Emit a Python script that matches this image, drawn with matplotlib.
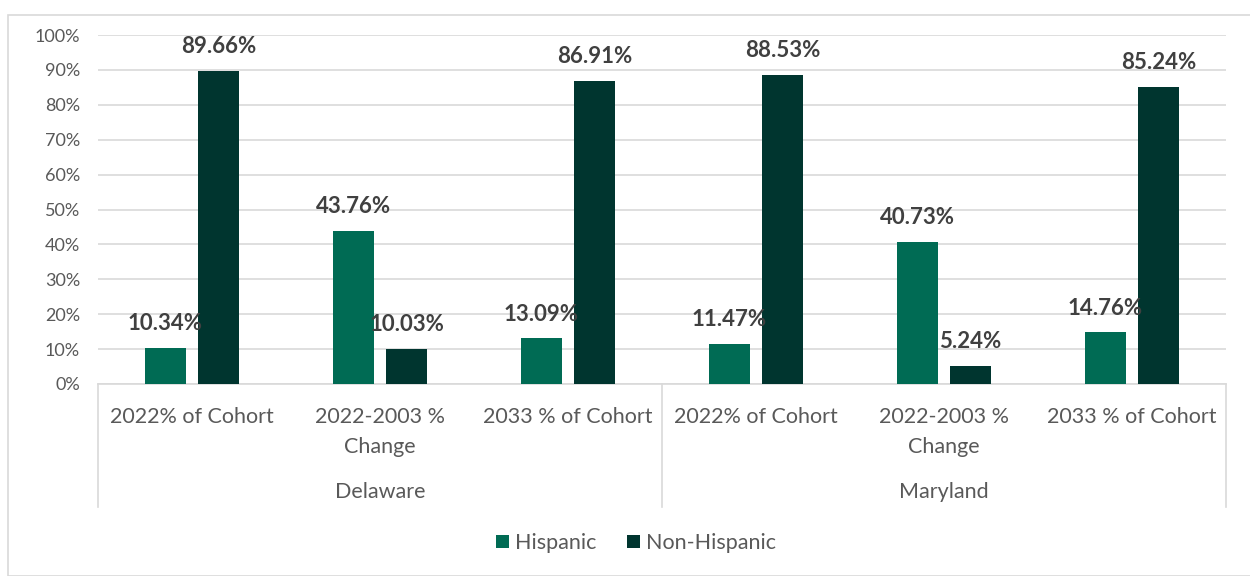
import numpy as np
import matplotlib
matplotlib.use("Agg")
import matplotlib.pyplot as plt
from matplotlib.patches import Rectangle

plt.rcParams['font.family'] = ['Lato', 'DejaVu Sans']

# data
states = ['Delaware', 'Maryland']
measures = ['2022% of Cohort', '2022-2003 %\nChange', '2033 % of Cohort']
hispanic = [10.34, 43.76, 13.09, 11.47, 40.73, 14.76]
non_hispanic = [89.66, 10.03, 86.91, 88.53, 5.24, 85.24]

c_his = '#006B54'
c_non = '#00352F'
txt = '#404040'
grid_c = '#D9D9D9'

fig = plt.figure(figsize=(12.5, 5.76), dpi=100)
fig.patches.append(Rectangle((8/1250, 0), 1.0, 1 - 15/576, transform=fig.transFigure,
                             fill=False, edgecolor=grid_c, lw=1.2, zorder=0))
ax = fig.add_axes([98/1250, 1 - 384/576, 1128/1250, 349/576])

x = np.arange(len(hispanic))
w = 0.22
off = 0.141
b1 = ax.bar(x - off, hispanic, w, color=c_his, label='Hispanic', zorder=3)
b2 = ax.bar(x + off, non_hispanic, w, color=c_non, label='Non-Hispanic', zorder=3)

for bars, vals in [(b1, hispanic), (b2, non_hispanic)]:
    for b, v in zip(bars, vals):
        ax.annotate(f'{v:.2f}%', (b.get_x() + b.get_width()/2, v), xytext=(0, 17.5),
                    textcoords='offset points', ha='center', va='center',
                    fontsize=16, fontweight='bold', color=txt, zorder=4)

ax.set_xlim(-0.5, len(x) - 0.5)
ax.set_ylim(0, 100)
ax.set_yticks(range(0, 101, 10))
ax.set_yticklabels([f'{t}%' for t in range(0, 101, 10)], fontsize=13, color='#595959')
ax.yaxis.grid(True, color=grid_c, lw=1.2, zorder=0)
ax.tick_params(axis='y', length=0, pad=13)
ax.set_xticks([])
for s in ['top', 'right', 'left']:
    ax.spines[s].set_visible(False)
ax.spines['bottom'].set_color(grid_c)
ax.spines['bottom'].set_linewidth(1.2)

# category labels
trans = ax.get_xaxis_transform()
for i in x:
    ax.text(i, -0.065, measures[i % 3], transform=trans, ha='center', va='top',
            fontsize=15.5, color='#595959', linespacing=1.65)
for j, st in enumerate(states):
    ax.text(j*3 + 1, -0.309, st, transform=trans, ha='center', va='center',
            fontsize=15.5, color='#595959')
for xs in [-0.5, 2.5, 5.5]:
    ax.plot([xs, xs], [0, -0.352], transform=trans, color=grid_c, lw=1.2, clip_on=False)

fig.legend(handles=[b1, b2], loc='center', bbox_to_anchor=(0.509, 1 - 543/576),
           ncol=2, frameon=False, fontsize=15.5, handlelength=0.6, handleheight=0.6,
           handletextpad=0.3, columnspacing=1.4, labelcolor='#595959')

fig.savefig('out.png', dpi=100)
